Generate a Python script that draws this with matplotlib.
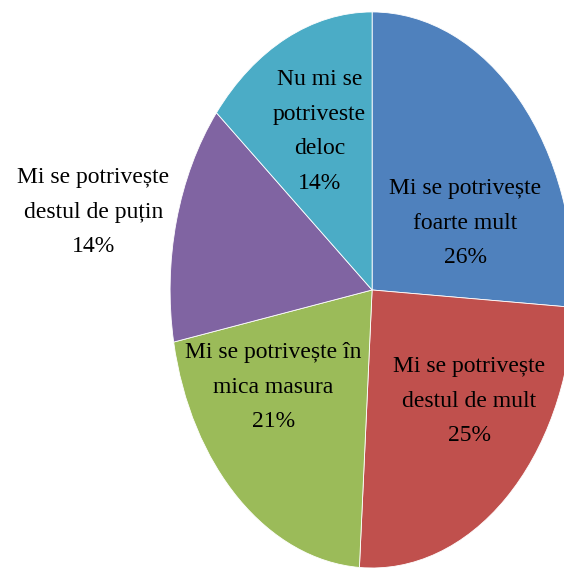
import matplotlib
matplotlib.use("Agg")
import matplotlib.pyplot as plt

# date din grafic (in ordinea din Excel, de sus in sensul acelor de ceasornic)
categorii = ["Mi se potrivește\nfoarte mult",
             "Mi se potrivește\ndestul de mult",
             "Mi se potrivește în\nmica masura",
             "Mi se potrivește\ndestul de puțin",
             "Nu mi se\npotriveste\ndeloc"]
procente = [26, 25, 21, 14, 14]
culori = ["#4F81BD", "#C0504D", "#9BBB59", "#8064A2", "#4BACC6"]

# pozitii etichete (coordonate in datele axei, raza = 1)
pozitii = [(0.46, 0.24), (0.48, -0.40), (-0.49, -0.35), (-1.38, 0.28), (-0.26, 0.57)]

fig = plt.figure(figsize=(5.64, 5.68), dpi=100)
ax = fig.add_axes([0, 0, 1, 1])

ax.pie(procente, colors=culori, startangle=90, counterclock=False,
       wedgeprops=dict(edgecolor="white", linewidth=0.6))

for cat, p, (x, y) in zip(categorii, procente, pozitii):
    ax.text(x, y, f"{cat}\n{p}%", ha="center", va="center",
            fontsize=17, family="Liberation Serif", linespacing=1.85,
            color="black")

# elipsa alungita ca in original
ax.set_aspect("auto")
ax.set_xlim(-1.842, 0.950)
ax.set_ylim(-1.0, 1.043)
ax.axis("off")

fig.savefig("out.png", dpi=100)
